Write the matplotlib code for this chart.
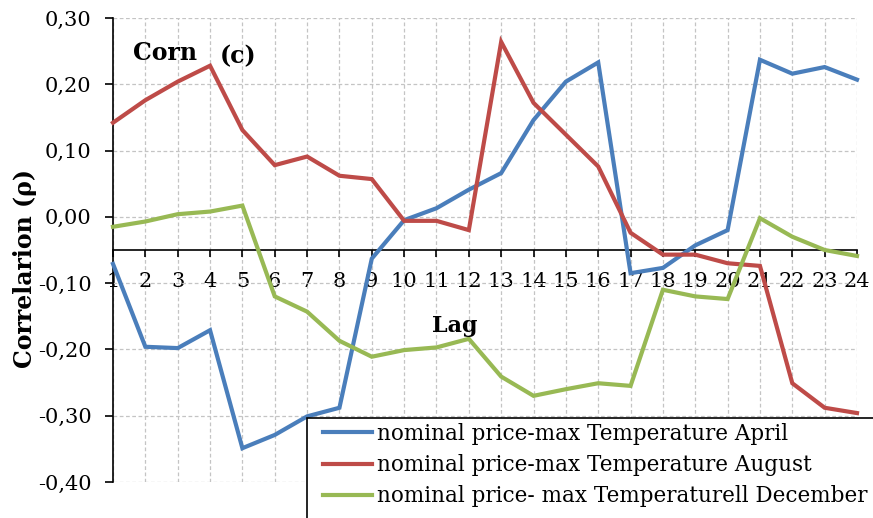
import matplotlib
matplotlib.use("Agg")
import matplotlib.pyplot as plt
from matplotlib.patches import Rectangle
from matplotlib.lines import Line2D

lags = list(range(1, 25))
april = [-0.071, -0.196, -0.198, -0.171, -0.349, -0.329, -0.301, -0.288, -0.063, -0.005,
         0.013, 0.041, 0.066, 0.146, 0.204, 0.233, -0.085, -0.077, -0.043, -0.020,
         0.237, 0.216, 0.226, 0.207]
august = [0.142, 0.176, 0.204, 0.228, 0.131, 0.078, 0.091, 0.062, 0.057, -0.006,
          -0.006, -0.020, 0.264, 0.172, 0.124, 0.076, -0.024, -0.057, -0.057, -0.070,
          -0.074, -0.251, -0.288, -0.296]
december = [-0.015, -0.007, 0.004, 0.008, 0.017, -0.120, -0.143, -0.187, -0.211, -0.201,
            -0.197, -0.184, -0.241, -0.270, -0.260, -0.251, -0.255, -0.110, -0.120, -0.124,
            -0.002, -0.030, -0.050, -0.059]
series_labels = ["nominal price-max Temperature April",
                 "nominal price-max Temperature August",
                 "nominal price- max Temperaturell December"]
colors = ["#4A7EBB", "#BE4B48", "#98B954"]
yticks = [-0.4, -0.3, -0.2, -0.1, 0.0, 0.1, 0.2, 0.3]

W, H = 873, 518
FONT = "DejaVu Serif"
plt.rcParams['font.family'] = FONT

fig = plt.figure(figsize=(W / 100, H / 100), dpi=100)

def fx(px):
    return px / W

def fy(py):
    return 1 - py / H

ax = fig.add_axes([fx(113), fy(482), fx(857) - fx(113), fy(18) - fy(482)])
ax.set_xlim(1, 24)
ax.set_ylim(-0.4, 0.3)

for vals, c, lab in zip([april, august, december], colors, series_labels):
    ax.plot(lags, vals, color=c, lw=3, label=lab, clip_on=False, zorder=3,
            solid_joinstyle='miter')

ax.set_xticks(lags)
ax.set_xticklabels([str(l) for l in lags])
ax.set_yticks(yticks)
ax.set_yticklabels([f"{v:.2f}".replace(".", ",") for v in yticks])

ax.grid(True, color="#C4C4C4", lw=0.9, ls=(0, (3, 2)))
ax.set_axisbelow(True)

for s in ["top", "right"]:
    ax.spines[s].set_visible(False)
ax.spines["bottom"].set_position(("data", -0.05))
ax.spines["bottom"].set_color("black")
ax.spines["bottom"].set_linewidth(1.2)
ax.spines["left"].set_color("black")
ax.spines["left"].set_linewidth(1.2)
ax.spines["bottom"].set_zorder(2)

ax.tick_params(axis="y", direction="out", length=5.5, width=1.2, pad=10, labelsize=15)
ax.tick_params(axis="x", direction="out", length=5, width=1.2, pad=11, labelsize=15)

fig.text(fx(25), fy(268), "Correlarion (ρ)", rotation=90, ha="center", va="center",
         fontsize=17, fontweight="bold")
fig.text(fx(455), fy(332), "Lag", ha="center", va="baseline", fontsize=16, fontweight="bold")
fig.text(fx(133), fy(60), "Corn", ha="left", va="baseline", fontsize=17, fontweight="bold")
fig.text(fx(220), fy(63), "(c)", ha="left", va="baseline", fontsize=17, fontweight="bold")

rect = Rectangle((fx(307), fy(530)), fx(900) - fx(307), fy(418) - fy(530),
                 transform=fig.transFigure, facecolor="white", edgecolor="black",
                 lw=1.2, zorder=5)
fig.patches.append(rect)

handles = [Line2D([], [], color=c, lw=3) for c in colors]
leg = fig.legend(handles, series_labels, loc="upper left",
                 bbox_to_anchor=(fx(323), fy(423)), frameon=False,
                 borderpad=0, borderaxespad=0, fontsize=15.5,
                 handlelength=2.28, handletextpad=0.25, labelspacing=0.42)
leg.set_zorder(6)

fig.savefig("out.png", dpi=100)
